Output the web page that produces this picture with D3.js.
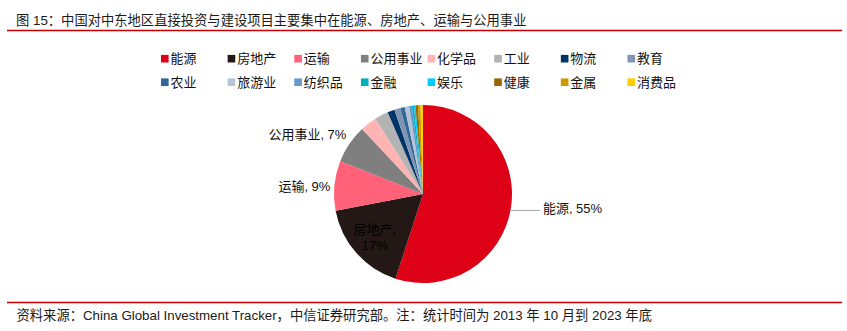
<!DOCTYPE html>
<html>
<head>
<meta charset="utf-8">
<script src="https://cdn.jsdelivr.net/npm/d3@7/dist/d3.min.js"></script>
<style>
  html, body { margin: 0; padding: 0; background: #fff; }
  svg { display: block; }
  text { font-family: "Liberation Sans", Arial, "Noto Sans CJK SC", sans-serif; }
</style>
</head>
<body>
<svg id="chart" width="847" height="331"></svg>
<script>
// Sector shares (%) of China's direct investment & construction in the Middle East
const categories = ["能源", "房地产", "运输", "公用事业", "化学品", "工业", "物流", "教育",
                    "农业", "旅游业", "纺织品", "金融", "娱乐", "健康", "金属", "消费品"];
const shares = [55, 17, 9, 7, 3.0, 2.5, 1.3, 1.1, 0.8, 0.8, 0.5, 0.35, 0.3, 0.45, 0.45, 0.45];
const colors = ["#DE0016", "#231815", "#FF6278", "#7F7F7F", "#FFB3B3", "#B3B3B3", "#003366", "#7F96B2",
                "#336699", "#B4C3D5", "#6699CC", "#00B0C0", "#00CCFF", "#996600", "#CC9900", "#FFCC00"];
const labelled = ["能源", "房地产", "运输", "公用事业"];
const labelText = ["能源, 55%", "房地产,\n17%", "运输, 9%", "公用事业, 7%"];

const title = "图 15：中国对中东地区直接投资与建设项目主要集中在能源、房地产、运输与公用事业";
const source = "资料来源：China Global Investment Tracker，中信证券研究部。注：统计时间为 2013 年 10 月到 2023 年底";

const svg = d3.select("#chart");
const ruleColor = "#C00000";

// header
svg.append("text").attr("x", 16).attr("y", 24.5)
  .attr("font-size", 13.3).attr("fill", "#1a1a1a").text(title);
svg.append("line").attr("x1", 7).attr("x2", 842).attr("y1", 30.5).attr("y2", 30.5)
  .attr("stroke", ruleColor).attr("stroke-width", 1.3);

// footer
svg.append("line").attr("x1", 7).attr("x2", 842).attr("y1", 302.5).attr("y2", 302.5)
  .attr("stroke", ruleColor).attr("stroke-width", 1.3);
svg.append("text").attr("x", 16.5).attr("y", 320)
  .attr("font-size", 13.3).attr("fill", "#1a1a1a").text(source);

// legend: 8 columns x 2 rows
const color = d3.scaleOrdinal().domain(categories).range(colors);
const legCol = d3.scalePoint().domain(d3.range(8)).range([161, 627.5]);
const legRow = d3.scalePoint().domain([0, 1]).range([58.7, 82.2]);
const leg = svg.append("g").selectAll("g").data(categories).join("g")
  .attr("transform", (d, i) => `translate(${legCol(i % 8)},${legRow(Math.floor(i / 8))})`);
leg.append("rect").attr("x", 0).attr("y", -3.8).attr("width", 7.6).attr("height", 7.6)
  .attr("fill", d => color(d));
leg.append("text").attr("x", 9.5).attr("y", 0).attr("dy", "0.36em")
  .attr("font-size", 13).attr("fill", "#111").text(d => d);

// pie
const cx = 423, cy = 194, R = 89;
const data = categories.map((c, i) => ({ name: c, value: shares[i] }));
const pie = d3.pie().value(d => d.value).sort(null);
const arcs = pie(data);
const arc = d3.arc().innerRadius(0).outerRadius(R);
const g = svg.append("g").attr("transform", `translate(${cx},${cy})`);
g.selectAll("path").data(arcs).join("path")
  .attr("d", arc).attr("fill", d => color(d.data.name));

// data labels
const mid = d => (d.startAngle + d.endAngle) / 2;
const onArc = (d, k) => [Math.sin(mid(d)) * R * k, -Math.cos(mid(d)) * R * k];
const lab = g.append("g").attr("font-size", 13).attr("fill", "#111");

arcs.forEach(d => {
  const idx = labelled.indexOf(d.data.name);
  if (idx < 0) return;
  const txt = labelText[idx];
  if (d.data.name === "能源") {
    const [x, y] = onArc(d, 1);
    lab.append("line").attr("x1", x - 1).attr("x2", x + 29).attr("y1", y + 2.5).attr("y2", y + 2.5)
      .attr("stroke", "#a6a6a6").attr("stroke-width", 1);
    lab.append("text").attr("x", x + 32).attr("y", y).attr("dy", "0.36em").text(txt);
  } else if (d.data.name === "房地产") {
    const [x, y] = onArc(d, 0.7);
    const lines = txt.split("\n");
    lines.forEach((t, j) => {
      lab.append("text").attr("x", x - 1.5).attr("y", y + (j - 0.5) * 15.5 + 2)
        .attr("dy", "0.36em").attr("text-anchor", "middle").attr("fill", "#000").text(t);
    });
  } else if (d.data.name === "运输") {
    const [x, y] = onArc(d, 1);
    lab.append("text").attr("x", x - 4).attr("y", y + 1).attr("dy", "0.36em")
      .attr("text-anchor", "end").text(txt);
  } else {
    const [x, y] = onArc(d, 1);
    lab.append("text").attr("x", x - 3).attr("y", y - 9.5).attr("dy", "0.36em")
      .attr("text-anchor", "end").text(txt);
  }
});
</script>
</body>
</html>
